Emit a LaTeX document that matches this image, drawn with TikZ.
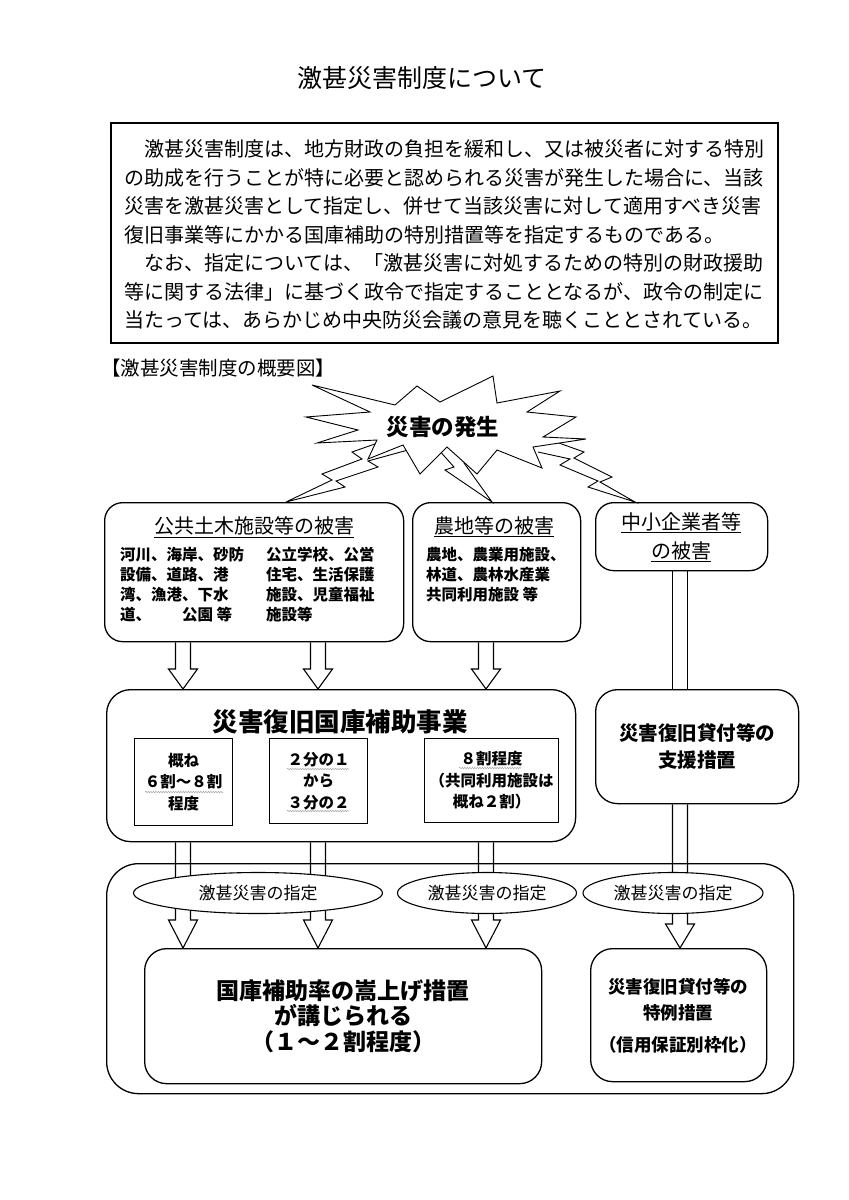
\documentclass[tikz,border=0pt]{standalone}
\usepackage{fontspec}
\setmainfont{Noto Sans CJK JP}
\usetikzlibrary{positioning, shapes.geometric, decorations.pathmorphing, calc}

\tikzset{
  rbox/.style={draw, line width=1.3pt, rounded corners=18pt, anchor=north west, inner sep=0pt},
  sqbox/.style={draw, line width=1.1pt, anchor=north west, inner sep=0pt},
  hd/.style={font=\fontsize{20}{29}\selectfont},
  small/.style={font=\bfseries\fontsize{15.5}{20}\selectfont, align=left, anchor=west, inner sep=0pt},
  mid/.style={font=\bfseries\fontsize{15.5}{21.5}\selectfont, align=center},
  oval/.style={draw, ellipse, fill=white, line width=1.1pt, minimum height=41pt, inner sep=0pt, font=\fontsize{17}{20}\selectfont},
  fat/.style={draw, line width=1.1pt},
  wavy/.style={draw=gray!70, line width=0.5pt, decorate, decoration={snake, amplitude=0.7pt, segment length=2.5pt}},
}

% hollow arrow: from, to, head length
\newcommand{\fatarrow}[3]{%
  \draw[fat] let \p1=(#1), \p2=(#2) in
    (\x1-7.5pt,\y1) -- (\x1-7.5pt,\y2+#3) -- (\x1-14.5pt,\y2+#3) -- (\x1,\y2)
    -- (\x1+14.5pt,\y2+#3) -- (\x1+7.5pt,\y2+#3) -- (\x1+7.5pt,\y1);}
% double line without head
\newcommand{\fatline}[2]{%
  \draw[fat] let \p1=(#1), \p2=(#2) in
    (\x1-7.5pt,\y1) -- (\x1-7.5pt,\y2) (\x1+7.5pt,\y1) -- (\x1+7.5pt,\y2);}

\begin{document}
\begin{tikzpicture}[x=1pt, y=-1pt]
  \path[fill=white] (0,0) rectangle (849,1200);
  \useasboundingbox (0,0) rectangle (849,1200);

  % title and explanation
  \node[font=\fontsize{25}{30}\selectfont] (title) at (422,78) {激甚災害制度について};
  \node[sqbox, line width=1.6pt, minimum width=667pt, minimum height=220pt] (textbox) at (110,122) {};
  \node[font=\fontsize{20}{28.5}\selectfont, align=left] (para) at ([yshift=-2pt]textbox.center) {%
    　激甚災害制度は、地方財政の負担を緩和し、又は被災者に対する特別\\
    の助成を行うことが特に必要と認められる災害が発生した場合に、当該\\
    災害を激甚災害として指定し、併せて当該災害に対して適用すべき災害\\
    復旧事業等にかかる国庫補助の特別措置等を指定するものである。\\
    　なお、指定については、「激甚災害に対処するための特別の財政援助\\
    等に関する法律」に基づく政令で指定することとなるが、政令の制定に\\
    当たっては、あらかじめ中央防災会議の意見を聴くこととされている。};
  \node[font=\fontsize{19.5}{24}\selectfont, anchor=west, inner sep=0pt] (caption) at (101,368) {【激甚災害制度の概要図】};

  % lightning bolts
  \draw[line width=0.9pt] (392,438) -- (352,452) -- (362,459) -- (322,474) -- (332,480) -- (286,502)
    -- (345,487) -- (336,481) -- (378,467) -- (368,461) -- (408,450);
  \draw[line width=0.9pt] (437,448) -- (454,467) -- (445,470) -- (492,502)
    -- (464,463) -- (472,460) -- (456,445);
  \draw[line width=0.9pt] (545,438) -- (584,452) -- (574,458) -- (612,477) -- (600,482) -- (635,502)
    -- (588,487) -- (598,481) -- (560,465) -- (570,459) -- (538,452);

  % burst
  \draw[line width=0.9pt, fill=white] (312,385) -- (395,405) -- (417,386) -- (440,402) -- (493,376)
    -- (497,403) -- (560,391) -- (527,412) -- (576,417) -- (543,437) -- (586,439) -- (533,447)
    -- (542,468) -- (497,450) -- (477,474) -- (447,447) -- (420,474) -- (403,445) -- (368,459)
    -- (377,440) -- (317,443) -- (358,430) -- (306,417) -- (370,412) -- cycle;
  \node[font=\bfseries\fontsize{22.5}{26}\selectfont] (quake) at (443,427) {災害の発生};

  % damage boxes
  \node[rbox, minimum width=299pt, minimum height=139pt] (civil) at (104,502) {};
  \node[hd] (civilT) at (254,527) {\underline{公共土木施設等の被害}};
  \node[small] (civilA) at (120,585) {河川、海岸、砂防\\設備、道路、港\\湾、漁港、下水\\道、　　公園 等};
  \node[small] (civilB) at (266,585) {公立学校、公営\\住宅、生活保護\\施設、児童福祉\\施設等};

  \node[rbox, minimum width=168pt, minimum height=139pt] (farm) at (412,502) {};
  \node[hd] (farmT) at (494,527) {\underline{農地等の被害}};
  \node[small] (farmA) at (426,575) {農地、農業用施設、\\林道、農林水産業\\共同利用施設 等};

  \node[rbox, minimum width=172pt, minimum height=68pt] (smb) at (595,502) {};
  \node[hd, align=center] (smbT) at (681,537) {\underline{中小企業者等}\\\underline{の被害}};

  % restoration project
  \node[rbox, rounded corners=24pt, minimum width=469pt, minimum height=152pt] (proj) at (106,689) {};
  \node[font=\bfseries\fontsize{25.5}{30}\selectfont] (projT) at (340,722) {災害復旧国庫補助事業};
  \node[sqbox, minimum width=98pt, minimum height=87pt] (rateA) at (134,738) {};
  \node[sqbox, minimum width=98pt, minimum height=85pt] (rateB) at (269,738) {};
  \node[sqbox, minimum width=134pt, minimum height=84pt] (rateC) at (424,738) {};
  \node[mid] (rateAT) at (rateA.center) {概ね\\６割～８割\\程度};
  \node[mid] (rateBT) at (rateB.center) {２分の１\\から\\３分の２};
  \node[mid] (rateCT) at (rateC.center) {８割程度\\（共同利用施設は\\概ね２割）};
  \draw[wavy] (145,792) -- (223,792);
  \draw[wavy] (287,769) -- (349,769);
  \draw[wavy] (287,811) -- (349,811);
  \draw[wavy] (459,768) -- (521,768);

  \node[rbox, rounded corners=22pt, minimum width=203pt, minimum height=114pt] (loan) at (595,689) {};
  \node[font=\bfseries\fontsize{19.5}{27}\selectfont, align=center] (loanT) at (loan.center) {災害復旧貸付等の\\支援措置};

  % columns of the arrows
  \coordinate (k1) at (183,0);
  \coordinate (k2) at (318,0);
  \coordinate (k3) at (486,0);
  \coordinate (k4) at (680,0);

  \fatarrow{k1 |- civil.south}{k1 |- proj.north}{20pt}
  \fatarrow{k2 |- civil.south}{k2 |- proj.north}{20pt}
  \fatarrow{k3 |- farm.south}{k3 |- proj.north}{20pt}
  \fatline{k4 |- smb.south}{k4 |- loan.north}

  % designation
  \node[rbox, rounded corners=32pt, minimum width=687pt, minimum height=230pt] (outer) at (106,863) {};
  \node[rbox, rounded corners=22pt, minimum width=397pt, minimum height=135pt] (raise) at (144,948) {};
  \node[rbox, rounded corners=22pt, minimum width=176pt, minimum height=133pt] (special) at (590,948) {};

  \fatarrow{k1 |- proj.south}{k1 |- raise.north}{28pt}
  \fatarrow{k2 |- proj.south}{k2 |- raise.north}{28pt}
  \fatarrow{k3 |- proj.south}{k3 |- raise.north}{28pt}
  \fatarrow{k4 |- loan.south}{k4 |- special.north}{24pt}

  \node[oval, minimum width=249pt] (des1) at (258,893) {激甚災害の指定};
  \node[oval, minimum width=179pt] (des2) at (487,893) {激甚災害の指定};
  \node[oval, minimum width=180pt] (des3) at (673,893) {激甚災害の指定};

  \node[font=\bfseries\fontsize{23}{25.5}\selectfont, align=center] (raiseT) at (raise.center) {国庫補助率の嵩上げ措置\\が講じられる\\（１～２割程度）};
  \node[font=\bfseries\fontsize{17.5}{26}\selectfont, align=center] (specialT) at (678,1016) {災害復旧貸付等の\\特例措置\\[6pt]（信用保証別枠化）};
\end{tikzpicture}
\end{document}
